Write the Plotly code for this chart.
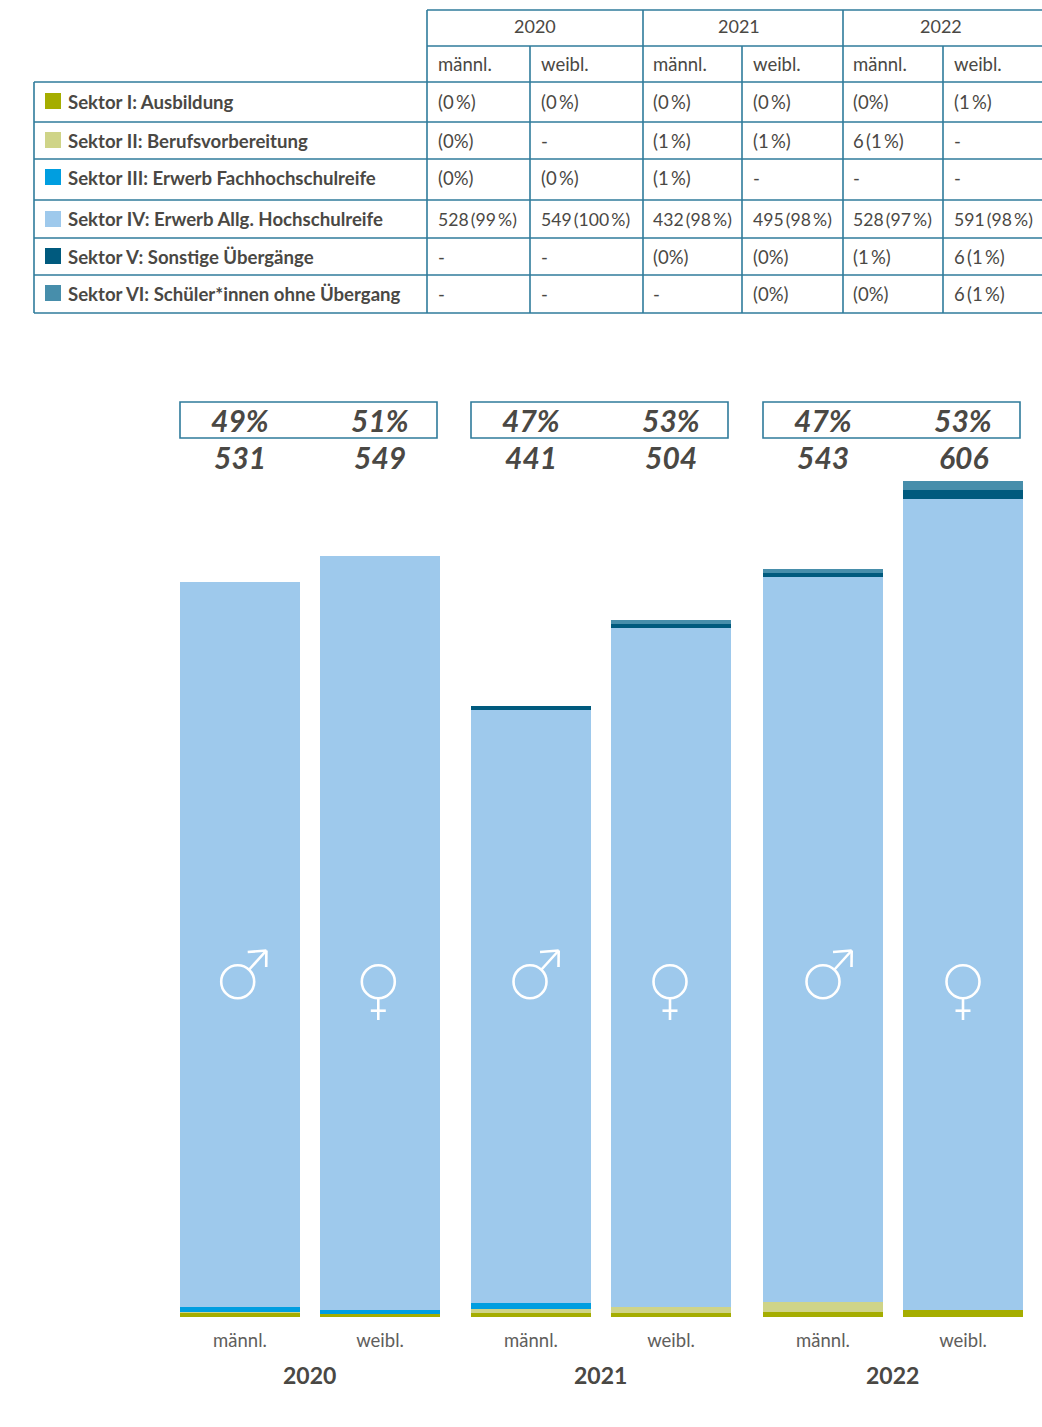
import plotly.graph_objects as go

W, H = 1042, 1427
FONT = "Lato"
TEXT = "#4a4844"
LINE = "#2f7b9b"

years = ["2020", "2021", "2022"]
genders = ["männl.", "weibl."]
bar_labels = ["männl.", "weibl.", "männl.", "weibl.", "männl.", "weibl."]
shares = ["49%", "51%", "47%", "53%", "47%", "53%"]
totals = ["531", "549", "441", "504", "543", "606"]

sector_names = [
    "Sektor I: Ausbildung",
    "Sektor II: Berufsvorbereitung",
    "Sektor III: Erwerb Fachhochschulreife",
    "Sektor IV: Erwerb Allg. Hochschulreife",
    "Sektor V: Sonstige Übergänge",
    "Sektor VI: Schüler*innen ohne Übergang",
]
sector_colors = ["#a5ad00", "#cfd488", "#009ee0", "#9ec9ec", "#005a7e", "#478eab"]

sector_1 = [3, 2, 3, 3, 4, 5]
sector_2 = [1, 0, 3, 4, 7, 0]
sector_3 = [3, 3, 4, 0, 0, 0]
sector_4 = [528, 549, 432, 495, 528, 591]
sector_5 = [0, 0, 3, 3, 3, 6]
sector_6 = [0, 0, 0, 3, 3, 7]
sector_values = [sector_1, sector_2, sector_3, sector_4, sector_5, sector_6]

T = "\u2009"
table_rows = [
    [f"(0{T}%)", f"(0{T}%)", f"(0{T}%)", f"(0{T}%)", "(0%)", f"(1{T}%)"],
    ["(0%)", "-", f"(1{T}%)", f"(1{T}%)", f"6{T}(1{T}%)", "-"],
    ["(0%)", f"(0{T}%)", f"(1{T}%)", "-", "-", "-"],
    [f"528{T}(99{T}%)", f"549{T}(100{T}%)", f"432{T}(98{T}%)", f"495{T}(98{T}%)", f"528{T}(97{T}%)", f"591{T}(98{T}%)"],
    ["-", "-", "(0%)", "(0%)", f"(1{T}%)", f"6{T}(1{T}%)"],
    ["-", "-", "-", "(0%)", "(0%)", f"6{T}(1{T}%)"],
]

# ---- layout helpers (pixel -> paper) ----
def px(x):
    return x / W

def py(y):
    return 1 - y / H

BASE = 1317
TOP = 470
UNIT = 1.373
centers = [240, 380, 531, 671, 823, 963]
group_centers = [309.5, 600.5, 892.5]

fig = go.Figure()
for name, color, vals in zip(sector_names, sector_colors, sector_values):
    fig.add_trace(go.Bar(x=centers, y=vals, width=120, name=name,
                         marker=dict(color=color, line=dict(width=0)),
                         hoverinfo="name+y"))

shapes, ann = [], []

def hline(y, x0, x1=W):
    shapes.append(dict(type="line", xref="paper", yref="paper", x0=px(x0), x1=px(x1),
                       y0=py(y), y1=py(y), line=dict(color=LINE, width=1.6)))

def vline(x, y0, y1):
    shapes.append(dict(type="line", xref="paper", yref="paper", x0=px(x), x1=px(x),
                       y0=py(y0), y1=py(y1), line=dict(color=LINE, width=1.6)))

def text(x, y, s, size, color=TEXT, bold=False, italic=False, anchor="left"):
    t = f"<b>{s}</b>" if bold else s
    t = f"<i>{t}</i>" if italic else t
    if anchor == "left":
        x -= 2
    ann.append(dict(xref="paper", yref="paper", x=px(x), y=py(y - 1), text=t, showarrow=False,
                    xanchor=anchor, yanchor="middle", align=anchor,
                    font=dict(family=FONT, size=size, color=color)))

# table grid
row_lines = [82, 122, 159, 200, 238, 275, 313]
hline(10, 427)
hline(46, 427)
for y in row_lines:
    hline(y, 34)
vline(34, 82, 313)
for x in (427, 643, 843):
    vline(x, 10, 313)
for x in (530, 742, 943):
    vline(x, 46, 313)

for x, y_ in zip((535, 738.5, 941), years):
    text(x, 27, y_, 18, anchor="center")
col_x = [437.5, 540.5, 653, 752.5, 853, 953.5]
for x, g in zip(col_x, genders * 3):
    text(x, 65, g, 18.5)

row_y = [103, 142, 179, 220, 258, 295]
swatch_y = [93, 132, 169, 211, 248, 285]
cell_sizes = [18.5, 18.5, 18.5, 17.6, 18.5, 18.5]
for name, color, ry, sy, row, cs in zip(sector_names, sector_colors, row_y, swatch_y, table_rows, cell_sizes):
    shapes.append(dict(type="rect", xref="paper", yref="paper", x0=px(45), x1=px(61),
                       y0=py(sy + 16), y1=py(sy), fillcolor=color, line=dict(width=0)))
    text(68, ry, name, 18.6, bold=True)
    for x, cell in zip(col_x, row):
        text(x, ry, cell, cs)

# share boxes
for x0 in (180, 471, 763):
    shapes.append(dict(type="rect", xref="paper", yref="paper", x0=px(x0), x1=px(x0 + 257),
                       y0=py(438), y1=py(402), line=dict(color=LINE, width=1.6)))
for c, s, n in zip(centers, shares, totals):
    text(c, 421, s, 30, bold=True, italic=True, anchor="center")
    text(c, 458, n, 30, bold=True, italic=True, anchor="center")

for c, y_ in zip(group_centers, years):
    text(c - 0.5, 1376, y_, 23, bold=True, anchor="center")

# gender symbols
SYM = dict(color="white", width=2.6)
def circle(cx, cy, r=16.5):
    shapes.append(dict(type="circle", xref="paper", yref="paper", x0=px(cx - r), x1=px(cx + r),
                       y0=py(cy + r), y1=py(cy - r), line=SYM))
def seg(x0, y0, x1, y1):
    shapes.append(dict(type="line", xref="paper", yref="paper", x0=px(x0), x1=px(x1),
                       y0=py(y0), y1=py(y1), line=SYM))

for cx in (237.7, 530, 823):
    circle(cx, 981.7)
    seg(cx + 11.5, 969.5, cx + 28.7, 950.5)
    seg(cx + 10, 952, cx + 28.7, 950.5)
    seg(cx + 28.7, 950.5, cx + 28.5, 967)
for cx in (378.3, 670, 963):
    circle(cx, 981.7)
    seg(cx, 998, cx, 1020)
    seg(cx - 7.5, 1010.7, cx + 7.5, 1010.7)

fig.update_layout(
    width=W, height=H, barmode="stack", showlegend=False, bargap=0,
    margin=dict(l=0, r=0, t=0, b=0), paper_bgcolor="white", plot_bgcolor="white",
    font=dict(family=FONT, color=TEXT),
    shapes=shapes, annotations=ann,
    xaxis=dict(range=[0, W], domain=[0, 1], tickmode="array", tickvals=centers, ticktext=bar_labels,
               showgrid=False, zeroline=False, showline=False, ticks="", ticklabelstandoff=10,
               tickfont=dict(family=FONT, size=18.5, color="#5f5e5c"), fixedrange=True),
    yaxis=dict(range=[0, (BASE - TOP) / UNIT], domain=[py(BASE), py(TOP)], visible=False,
               fixedrange=True),
)

fig.write_html("out.html", config={"displayModeBar": False},
               post_script="document.body.style.margin='0';document.documentElement.style.overflow='hidden';")
